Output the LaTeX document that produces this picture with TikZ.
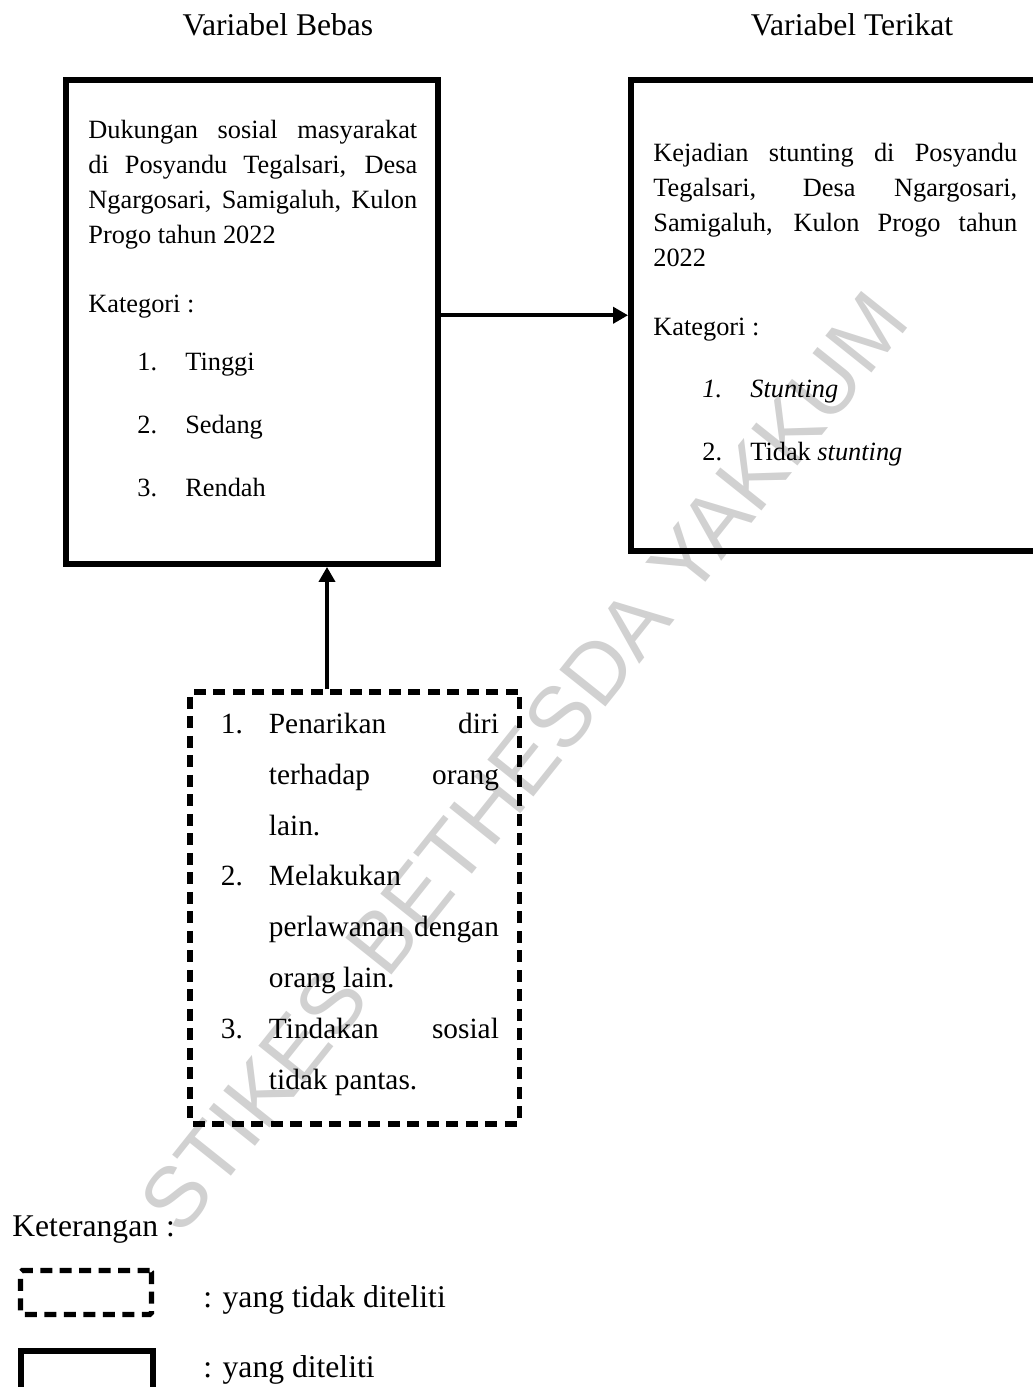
\documentclass[tikz,border=0pt]{standalone}
\usepackage{fontspec}
\setmainfont{Liberation Serif}
\newfontfamily\tandaair{Liberation Sans}
\usetikzlibrary{arrows.meta,positioning}

\begin{document}
\begin{tikzpicture}[x=0.02cm, y=-0.02cm,
	kotak/.style={draw, line width=3.4pt, inner sep=0pt},
	putus/.style={draw, line width=3pt, dash pattern=on 0.24cm off 0.15cm, rounded corners=1pt, inner sep=0pt},
	baris/.style={anchor=north west, inner sep=0pt, font=\fontsize{15}{19.9}\selectfont},
	isi/.style={baris, align=justify},
	poin/.style={anchor=north west, inner sep=0pt, text width=4.6cm, align=justify, font=\fontsize{16.7}{28.9}\selectfont},
	judul/.style={inner sep=0pt, font=\fontsize{18}{21}\selectfont},
	panah/.style={-{Triangle[length=0.3cm,width=0.32cm]}, line width=2.3pt}]
	\useasboundingbox (0,0) rectangle (1033,1387);
	\clip (0,0) rectangle (1033,1387);

	\node[rotate=51.4, text=black!18, font=\tandaair\fontsize{48.8}{50}\selectfont] (air) at (524,762) {STIKES BETHESDA YAKKUM};

	\node[judul, anchor=north] (j1) at (278,12.7) {Variabel Bebas};
	\node[judul, anchor=north] (j2) at (852,12.7) {Variabel Terikat};

	\node[kotak, minimum width=7.44cm, minimum height=9.69cm] (bebas) at (252,321.75) {};
	\node[kotak, minimum width=8.18cm, minimum height=9.43cm] (terikat) at (835.5,315.25) {};
	\node[putus, minimum width=6.59cm, minimum height=8.64cm] (faktor) at (354.75,908) {};

	\node[isi, text width=6.58cm] (d1) at (88,120) {Dukungan sosial masyarakat\linebreak di Posyandu Tegalsari, Desa\linebreak Ngargosari, Samigaluh, Kulon\linebreak Progo tahun 2022};
	\node[baris] (d2) at (88,295) {Kategori :};
	\node[baris] (d3) at (137,353) {\makebox[0.96cm][l]{1.}Tinggi};
	\node[baris] (d4) at (137,415) {\makebox[0.96cm][l]{2.}Sedang};
	\node[baris] (d5) at (137,478) {\makebox[0.96cm][l]{3.}Rendah};

	\node[isi, text width=7.28cm] (s1) at (653,143) {Kejadian stunting di Posyandu\linebreak Tegalsari, Desa Ngargosari,\linebreak Samigaluh, Kulon Progo tahun\linebreak 2022};
	\node[baris] (s2) at (653,318) {Kategori :};
	\node[baris] (s3) at (702,380) {\makebox[0.96cm][l]{\textit{1.}}\textit{Stunting}};
	\node[baris] (s4) at (702,442) {\makebox[0.96cm][l]{2.}Tidak \textit{stunting}};

	\node[poin] (p1) at (268.6,713) {\llap{\makebox[0.96cm][l]{1.}}Penarikan diri\linebreak terhadap orang\linebreak lain.};
	\node[poin] (p2) at (268.6,865) {\llap{\makebox[0.96cm][l]{2.}}Melakukan\newline perlawanan dengan\linebreak orang lain.};
	\node[poin] (p3) at (268.6,1018) {\llap{\makebox[0.96cm][l]{3.}}Tindakan sosial\linebreak tidak pantas.};

	\coordinate (kaki) at (327,0);
	\draw[panah] (bebas.east |- terikat.west) -- (terikat.west);
	\draw[panah] (faktor.north -| kaki) -- (bebas.south -| kaki);

	\node[judul, anchor=north west] (ket) at (12,1215) {Keterangan :};
	\node[putus, minimum width=2.62cm, minimum height=0.88cm] (l1) at (86,1292.5) {};
	\node[kotak, minimum width=2.64cm, minimum height=1.09cm] (l2) at (87,1377.75) {};
	\node[judul, anchor=north west] (t1) at (203,1285) {: yang tidak diteliti};
	\node[judul, anchor=north west] (t2) at (203,1355) {: yang diteliti};
\end{tikzpicture}
\end{document}
